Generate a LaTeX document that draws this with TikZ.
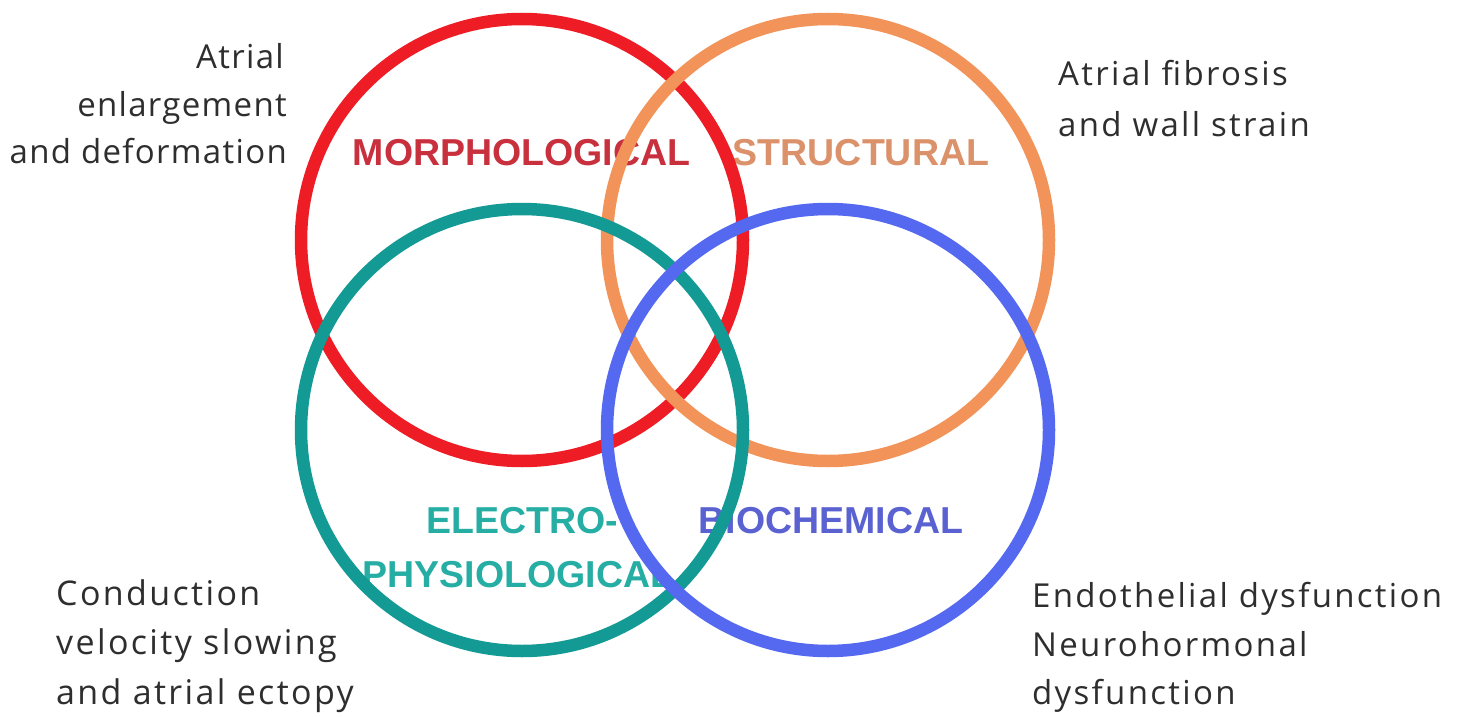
\documentclass[tikz,border=0pt]{standalone}
\usepackage{fontspec}
\setmainfont{Open Sans}[LetterSpace=7]
\newfontfamily\tightfont{Open Sans}[LetterSpace=4]
\newfontfamily\labelfont{Liberation Sans}
\definecolor{ringRed}{HTML}{EE1C25}
\definecolor{ringOrange}{HTML}{F2935A}
\definecolor{ringTeal}{HTML}{149A94}
\definecolor{ringBlue}{HTML}{5468F0}
\definecolor{txtRed}{HTML}{C8303E}
\definecolor{txtOrange}{HTML}{DB9169}
\definecolor{txtTeal}{HTML}{26AEA4}
\definecolor{txtBlue}{HTML}{5A62D2}
\definecolor{descGray}{HTML}{2E2E2E}
\begin{document}
\begin{tikzpicture}[x=1pt,y=-1pt,
  ring/.style={line width=12.5pt},
  fieldlabel/.style={font=\labelfont\bfseries\fontsize{37.5}{40}\selectfont, inner sep=0pt, anchor=base},
  desc/.style={font=\fontsize{33}{38}\selectfont, text=descGray, inner sep=0pt},
  desctight/.style={desc, font=\tightfont\fontsize{33}{38}\selectfont},
  descwide/.style={desc, font=\fontsize{34}{38}\selectfont}]
  \useasboundingbox (0,0) rectangle (1464,717);
  \fill[white] (0,0) rectangle (1464,717);

  % field labels sit beneath the rings
  \node[fieldlabel, text=txtRed] (morph) at (521.5,165) {MORPHOLOGICAL};
  \node[fieldlabel, text=txtOrange] (struct) at (861,165) {STRUCTURAL};
  \node[fieldlabel, text=txtTeal] (electro) at (522,533) {ELECTRO-};
  \node[fieldlabel, text=txtTeal] (physio) at (518,587) {PHYSIOLOGICAL};
  \node[fieldlabel, text=txtBlue] (biochem) at (831,533) {BIOCHEMICAL};

  % the four overlapping rings
  \draw[ring, ringRed] (522,240) circle[radius=221];
  \draw[ring, ringOrange] (828,240) circle[radius=221];
  \draw[ring, ringTeal] (522,430) circle[radius=221];
  \draw[ring, ringBlue] (828,430) circle[radius=221];

  % upper left description
  \node[desctight, anchor=base east] (tl1) at (284,68) {Atrial};
  \node[desctight, anchor=base east] (tl2) at (287,116) {enlargement};
  \node[desctight, anchor=base east] (tl3) at (287,163) {and deformation};

  % upper right description
  \node[desc, anchor=base west] (tr1) at (1058,85) {Atrial fibrosis};
  \node[desc, anchor=base west] (tr2) at (1058,136) {and wall strain};

  % lower left description
  \node[descwide, anchor=base west] (bl1) at (56,605) {Conduction};
  \node[descwide, anchor=base west] (bl2) at (56,654) {velocity slowing};
  \node[descwide, anchor=base west] (bl3) at (56,704) {and atrial ectopy};

  % lower right description
  \node[desc, anchor=base west] (br1) at (1032,607) {Endothelial dysfunction};
  \node[desc, anchor=base west] (br2) at (1032,656) {Neurohormonal};
  \node[desc, anchor=base west] (br3) at (1032,704) {dysfunction};
\end{tikzpicture}
\end{document}
